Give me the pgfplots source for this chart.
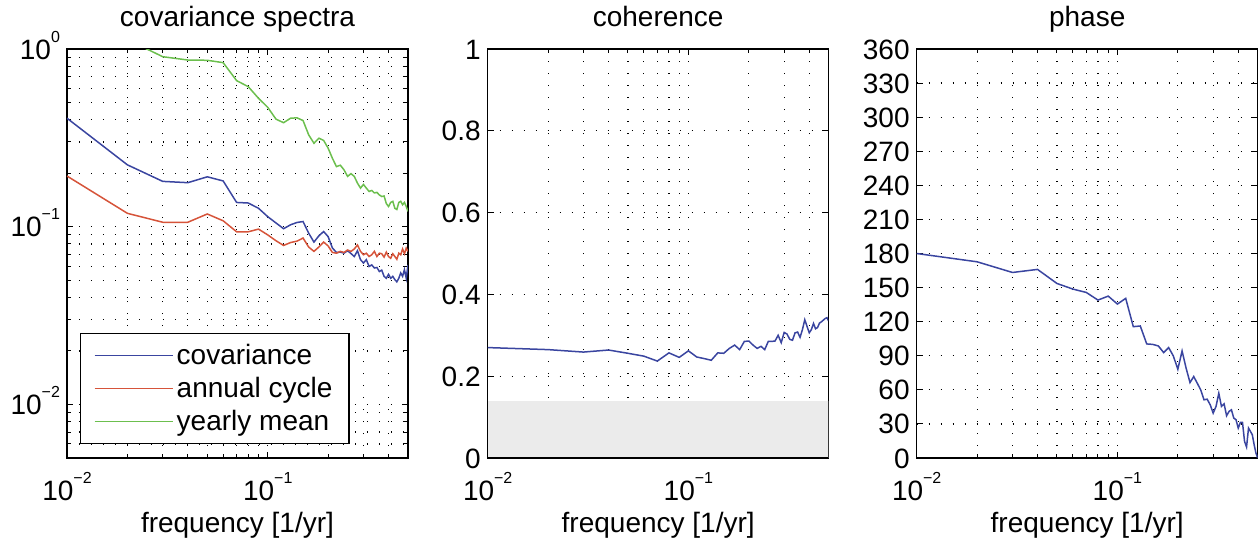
\documentclass[border=0pt]{standalone}
\usepackage{fontspec}
\setmainfont{Liberation Sans}
\usepackage{pgfplots}
\usepackage{pgfplotstable}
\pgfplotsset{compat=1.18}
\definecolor{covblue}{HTML}{3A45A0}
\definecolor{annred}{HTML}{D6543A}
\definecolor{yrgreen}{HTML}{6CBF4E}
\definecolor{band}{HTML}{EBEBEB}
\newcommand{\tfont}{\fontsize{14}{16}\selectfont}
\newcommand{\pow}[1]{10\raisebox{0.6em}{\fontsize{8}{8}\selectfont #1}}

% f = frequency, cov/ann/yr = spectra, coh = coherence, pha = phase
\pgfplotstableread{
f    cov    ann    yr    coh   pha
0.01 0.408  0.193  1.60  0.270 180.0
0.02 0.223  0.119  1.13  0.265 172.7
0.03 0.180  0.106  0.905 0.259 163.3
0.04 0.177  0.106  0.867 0.264 166.0
0.05 0.191  0.118  0.864 0.256 153.6
0.06 0.181  0.108  0.838 0.249 148.7
0.07 0.137  0.0937 0.664 0.237 145.7
0.08 0.136  0.0937 0.614 0.257 139.0
0.09 0.127  0.097  0.528 0.246 142.5
0.10 0.114  0.090  0.470 0.262 135.5
0.11 0.105  0.0834 0.403 0.247 140.5
0.12 0.0975 0.0785 0.385 0.243 115.6
0.13 0.1026 0.0815 0.408 0.239 116.2
0.14 0.1057 0.083  0.410 0.257 100.4
0.15 0.107  0.0864 0.396 0.256 100.0
0.16 0.092  0.0769 0.329 0.268 98.6
0.17 0.082  0.0727 0.295 0.276 92.8
0.18 0.089  0.077  0.315 0.265 97.2
0.19 0.094  0.082  0.306 0.285 89.8
0.20 0.088  0.078  0.277 0.286 78.1
0.21 0.076  0.0717 0.243 0.276 94.2
0.22 0.0717 0.071  0.218 0.268 79.0
0.23 0.072  0.0727 0.222 0.273 66.4
0.24 0.0711 0.0717 0.209 0.265 71.7
0.25 0.0733 0.074  0.192 0.285 65.8
0.26 0.0707 0.0727 0.199 0.285 60.0
0.27 0.068  0.075  0.192 0.286 51.2
0.28 0.0733 0.079  0.176 0.300 51.8
0.29 0.0653 0.0727 0.165 0.282 46.8
0.30 0.0625 0.0696 0.173 0.307 39.5
0.31 0.0653 0.071  0.165 0.303 45.4
0.32 0.0598 0.068  0.158 0.290 57.0
0.33 0.061  0.0696 0.160 0.288 45.4
0.34 0.0586 0.0727 0.155 0.306 47.7
0.35 0.059  0.068  0.156 0.308 37.2
0.36 0.056  0.071  0.151 0.295 41.0
0.37 0.057  0.0705 0.148 0.314 42.4
0.38 0.0526 0.0675 0.149 0.338 35.1
0.39 0.0513 0.072  0.135 0.322 33.7
0.40 0.054  0.068  0.130 0.306 26.3
0.41 0.0513 0.0665 0.137 0.314 31.3
0.42 0.0526 0.0705 0.139 0.329 31.3
0.43 0.0504 0.068  0.127 0.316 14.6
0.44 0.049  0.0656 0.125 0.319 9.7
0.45 0.0513 0.071  0.137 0.330 26.3
0.46 0.055  0.0696 0.139 0.333 23.4
0.47 0.0526 0.075  0.133 0.337 20.5
0.48 0.0574 0.0705 0.137 0.341 11.7
0.49 0.0513 0.0758 0.130 0.343 4.4
0.50 0.061  0.0727 0.122 0.335 0.0
}\spec

\pgfplotsset{
  every axis/.append style={
    width=170.5pt, height=204.5pt, scale only axis,
    axis line style={line width=0.6pt},
    tick align=inside,
    major tick length=3.2pt, minor tick length=1.8pt,
    tick style={black, line width=0.5pt},
    tick label style={font=\tfont},
    xticklabel style={anchor=base, yshift=-21pt},
    yticklabel style={anchor=base east, yshift=-5pt},
    label style={font=\tfont},
    xlabel style={at={(axis description cs:0.5,0)}, anchor=base, yshift=-37pt},
    title style={font=\tfont, text height=10pt, text depth=3pt, yshift=-1.2pt},
    grid style={black, line width=0.6pt, dash pattern=on 0.6pt off 5.4pt},
    minor grid style={black, line width=0.6pt, dash pattern=on 0.6pt off 5.4pt},
  }
}

\begin{document}
\begin{tikzpicture}
\path[use as bounding box] (-33.5pt,-42pt) rectangle (596.5pt,229pt);

% covariance spectra
\begin{axis}[
  at={(0pt,0pt)}, anchor=south west,
  xmode=log, ymode=log,
  xmin=0.01, xmax=0.5, ymin=0.005, ymax=1,
  xtick={0.01,0.1}, xticklabels={\pow{−2},\pow{−1}},
  minor xtick={0.02,0.03,0.04,0.05,0.06,0.07,0.08,0.09,0.2,0.3,0.4},
  ytick={0.01,0.1,1}, yticklabels={\pow{−2},\pow{−1},\pow{0}},
  minor ytick={0.005,0.006,0.007,0.008,0.009,0.02,0.03,0.04,0.05,0.06,0.07,0.08,0.09,0.2,0.3,0.4,0.5,0.6,0.7,0.8,0.9},
  grid=both,
  xlabel={frequency [1/yr]},
  title={covariance spectra},
  legend cell align=left,
  legend image code/.code={\draw[#1, line width=0.8pt] (0pt,0pt) -- (39pt,0pt);},
  legend style={at={(0.038,0.034)}, anchor=south west, font=\tfont,
    draw=black, line width=0.6pt, fill=white, row sep=0pt,
    inner xsep=6.6pt, inner ysep=2.8pt,
    nodes={inner sep=1.7pt, text height=10.9pt, text depth=2.2pt}},
]
  \addplot[covblue, line width=0.75pt] table[x=f, y=cov] {\spec};
  \addlegendentry{covariance}
  \addplot[annred, line width=0.75pt] table[x=f, y=ann] {\spec};
  \addlegendentry{annual cycle}
  \addplot[yrgreen, line width=0.75pt] table[x=f, y=yr] {\spec};
  \addlegendentry{yearly mean}
\end{axis}

% coherence
\begin{axis}[
  at={(210.35pt,0pt)}, anchor=south west,
  xmode=log, xmin=0.01, xmax=0.5, ymin=0, ymax=1,
  xtick={0.01,0.1}, xticklabels={\pow{−2},\pow{−1}},
  minor xtick={0.02,0.03,0.04,0.05,0.06,0.07,0.08,0.09,0.2,0.3,0.4},
  ytick={0,0.2,0.4,0.6,0.8,1}, yticklabels={0,0.2,0.4,0.6,0.8,1},
  xmajorgrids, xminorgrids, ymajorgrids,
  xlabel={frequency [1/yr]},
  title={coherence},
]
  \addplot[draw=none, fill=band] coordinates {(0.01,0) (0.5,0) (0.5,0.14) (0.01,0.14)} -- cycle;
  \addplot[covblue, line width=0.75pt] table[x=f, y=coh] {\spec};
  \addplot[black, line width=0.6pt] coordinates {(0.01,0) (0.5,0) (0.5,1) (0.01,1) (0.01,0)};
\end{axis}

% phase
\begin{axis}[
  at={(424.85pt,0pt)}, anchor=south west,
  xmode=log, xmin=0.01, xmax=0.5, ymin=0, ymax=360,
  xtick={0.01,0.1}, xticklabels={\pow{−2},\pow{−1}},
  minor xtick={0.02,0.03,0.04,0.05,0.06,0.07,0.08,0.09,0.2,0.3,0.4},
  ytick={0,30,...,360},
  yticklabels={0,30,60,90,120,150,180,210,240,270,300,330,360},
  xmajorgrids, xminorgrids, ymajorgrids,
  xlabel={frequency [1/yr]},
  title={phase},
]
  \addplot[covblue, line width=0.75pt] table[x=f, y=pha] {\spec};
\end{axis}
\end{tikzpicture}
\end{document}
